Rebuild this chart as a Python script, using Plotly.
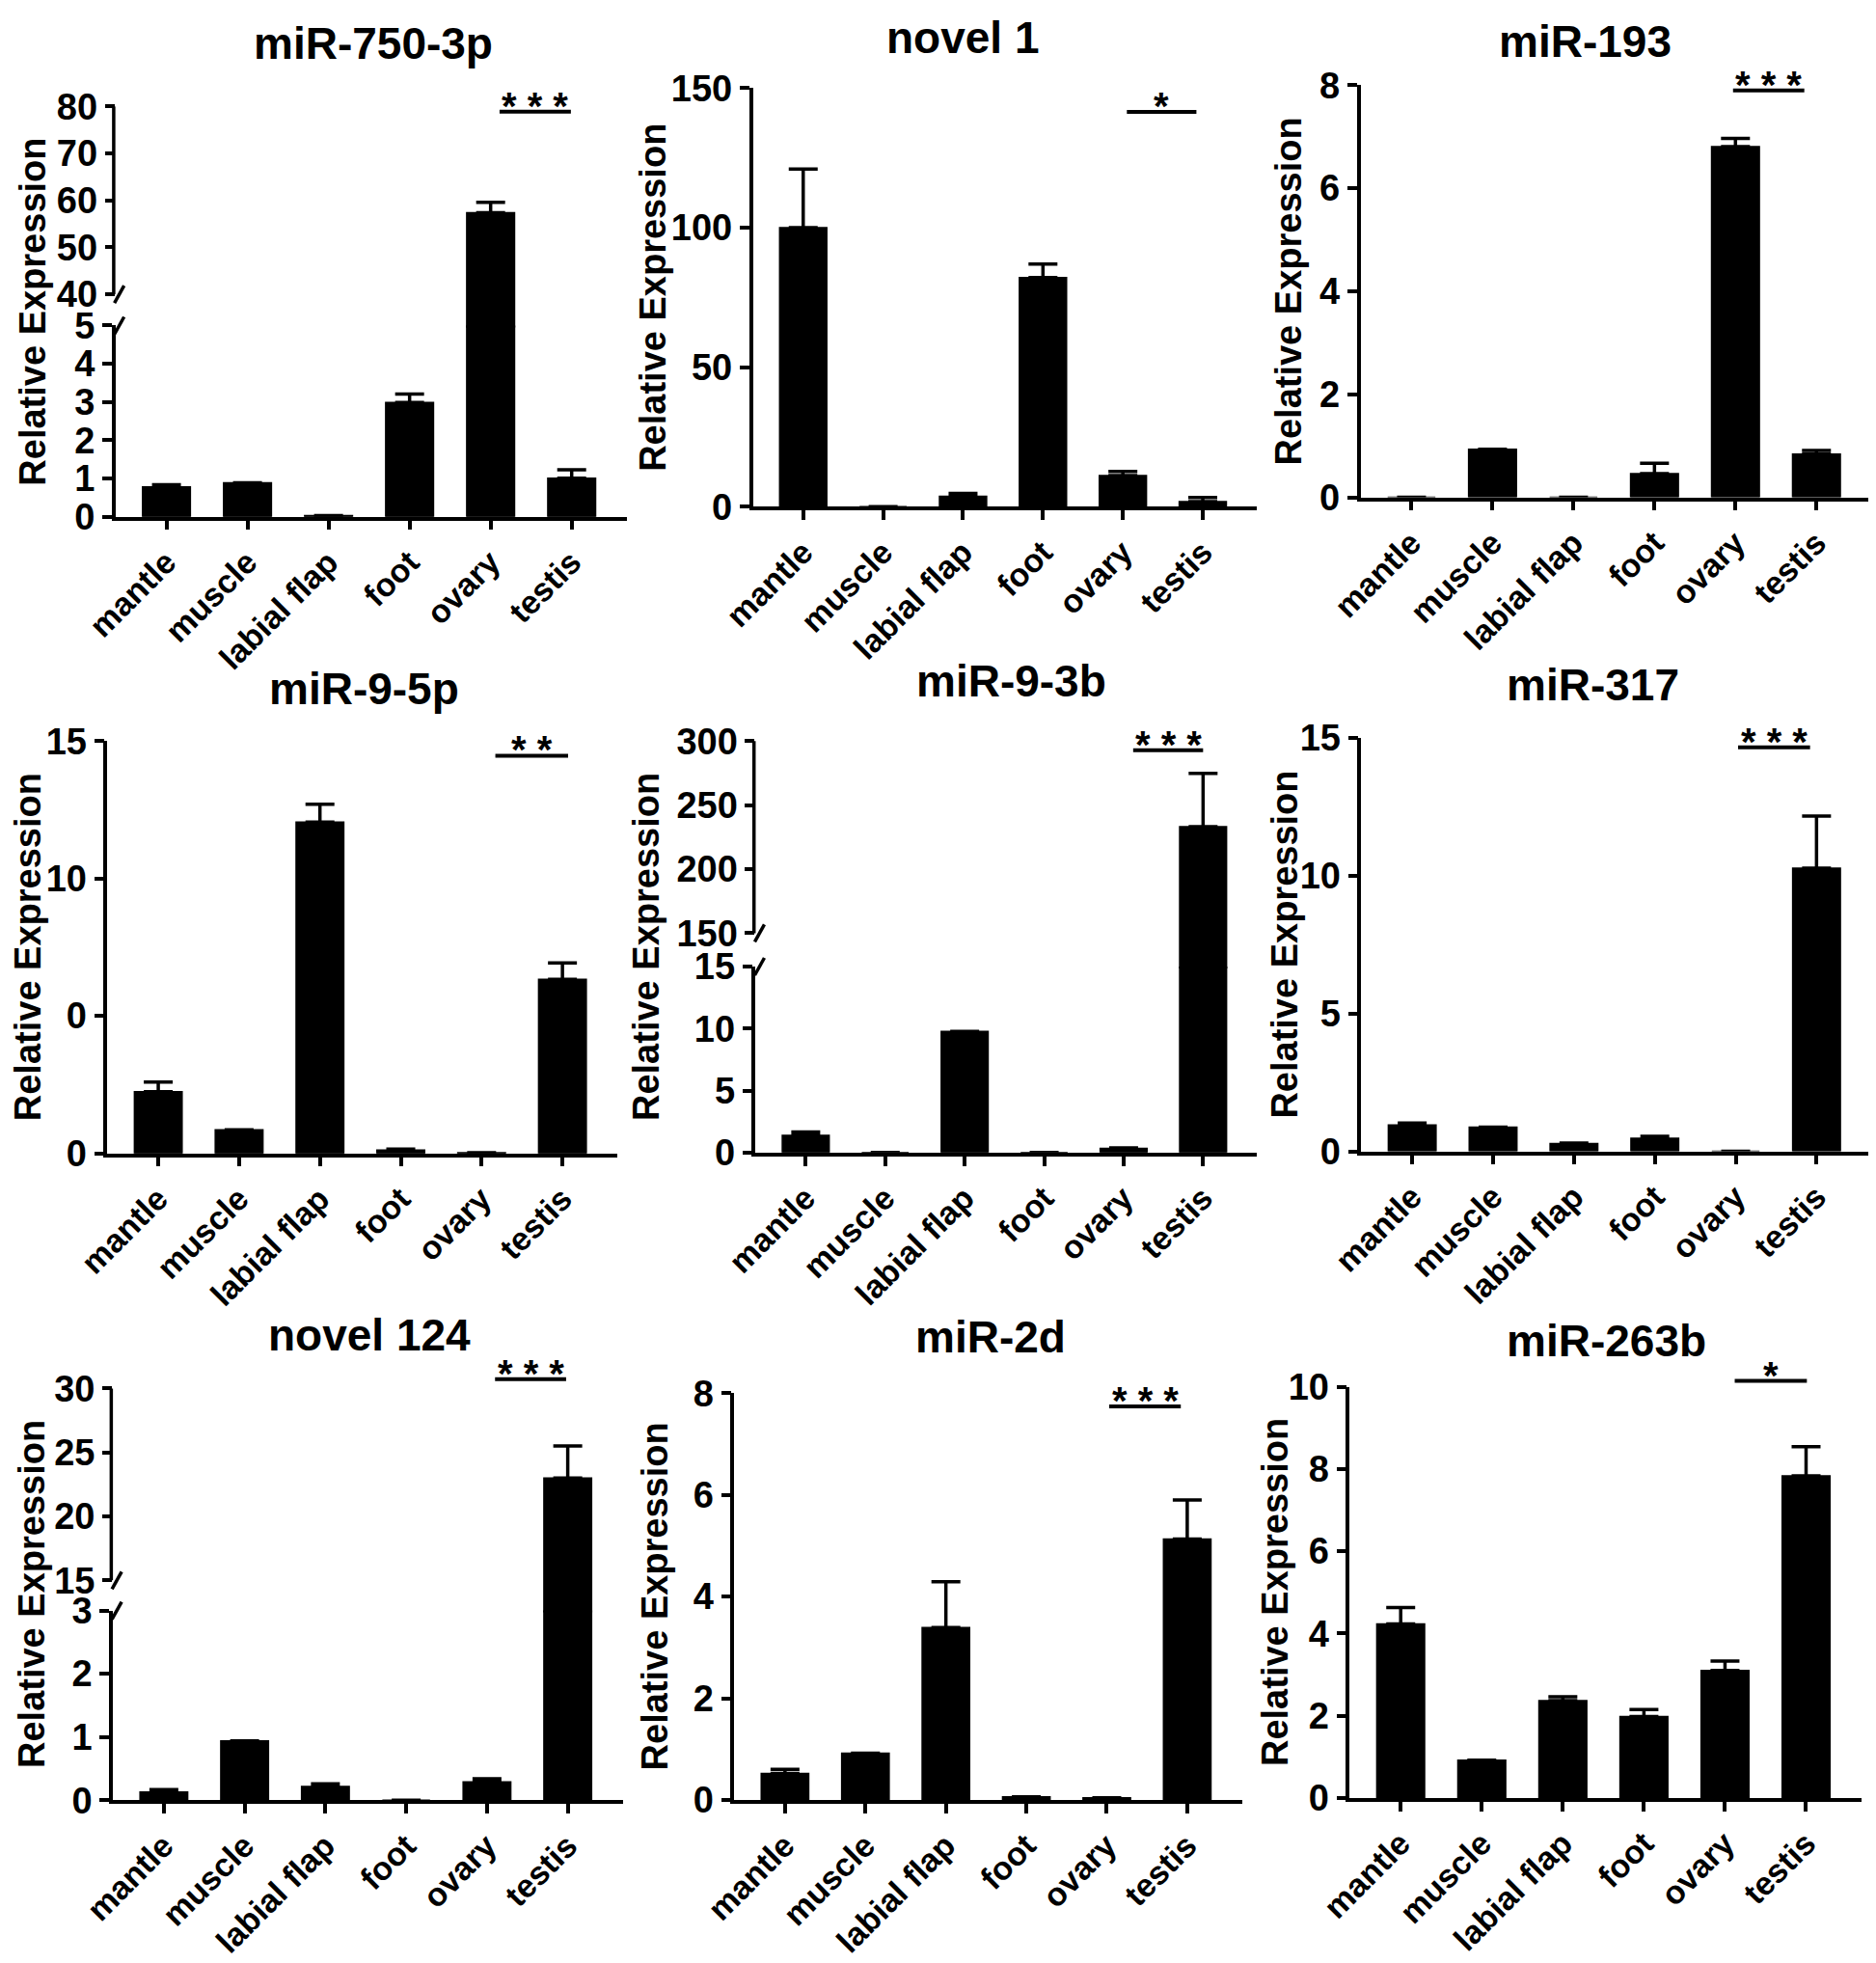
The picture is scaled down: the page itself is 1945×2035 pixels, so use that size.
import plotly.graph_objects as go

# ---- data ----
categories = ["mantle", "muscle", "labial flap", "foot", "ovary", "testis"]

titles = ["miR-750-3p", "novel 1", "miR-193",
          "miR-9-5p", "miR-9-3b", "miR-317",
          "novel 124", "miR-2d", "miR-263b"]

mir750_3p = [0.78, 0.89, 0.03, 2.99, 57.4, 1.01]
mir750_3p_err = [0.06, 0.0, 0.0, 0.22, 2.2, 0.22]
novel1 = [100.0, 0.0, 3.7, 82.1, 11.2, 1.8]
novel1_err = [21.0, 0.0, 1.1, 4.8, 1.4, 1.5]
mir193 = [0.0, 0.93, 0.0, 0.46, 6.81, 0.84]
mir193_err = [0.0, 0.0, 0.0, 0.2, 0.16, 0.07]
mir9_5p = [2.24, 0.86, 12.05, 0.12, 0.02, 6.33]
mir9_5p_err = [0.35, 0.0, 0.65, 0.03, 0.0, 0.6]
mir9_3b = [1.38, 0.0, 9.77, 0.0, 0.33, 233.2]
mir9_3b_err = [0.27, 0.0, 0.0, 0.0, 0.05, 41.6]
mir317 = [0.96, 0.88, 0.28, 0.48, 0.0, 10.28]
mir317_err = [0.07, 0.0, 0.02, 0.07, 0.0, 1.89]
novel124 = [0.13, 0.94, 0.22, 0.0, 0.29, 23.0]
novel124_err = [0.04, 0.0, 0.04, 0.0, 0.05, 2.5]
mir2d = [0.52, 0.92, 3.39, 0.06, 0.04, 5.13]
mir2d_err = [0.08, 0.0, 0.9, 0.0, 0.0, 0.77]
mir263b = [4.23, 0.92, 2.37, 1.98, 3.1, 7.83]
mir263b_err = [0.4, 0.0, 0.09, 0.17, 0.23, 0.71]

means = [mir750_3p, novel1, mir193, mir9_5p, mir9_3b, mir317, novel124, mir2d, mir263b]
errs = [mir750_3p_err, novel1_err, mir193_err, mir9_5p_err, mir9_3b_err,
        mir317_err, novel124_err, mir2d_err, mir263b_err]

# y ticks: lower segment, and upper segment for the broken axes
ticks_low = [[0, 1, 2, 3, 4, 5], [0, 50, 100, 150], [0, 2, 4, 6, 8],
             [0, 5, 10, 15], [0, 5, 10, 15], [0, 5, 10, 15],
             [0, 1, 2, 3], [0, 2, 4, 6, 8], [0, 2, 4, 6, 8, 10]]
ticks_high = [[40, 50, 60, 70, 80], None, None,
              None, [150, 200, 250, 300], None,
              [15, 20, 25, 30], None, None]
tick_text_9_5p = ["0", "0", "10", "15"]

# significance bar (ovary vs testis)
sig_level = [78.9, 141.4, 7.9, 14.47, 292.9, 14.66, 30.73, 7.74, 10.14]
sig_label = ["* * *", "*", "* * *", "* *", "* * *", "* * *", "* * *", "* * *", "*"]

# ---- layout of the 3x3 panels (paper fractions) ----
# brk = where the lower segment ends / upper segment starts, as a share of the panel height
panels = [
    dict(x=(0.0574, 0.3300), y=(0.7407, 0.9497), brk=(0.466, 0.542), t=(0.195, 0.982), dx=86, sig=(4.11, 4.99)),
    dict(x=(0.3972, 0.6660), y=(0.7458, 0.9591), t=(0.509, 0.985), dx=103, sig=(4.05, 4.92)),
    dict(x=(0.7211, 0.9935), y=(0.7506, 0.9605), t=(0.841, 0.983), dx=75, sig=(3.97, 4.85)),
    dict(x=(0.0531, 0.3250), y=(0.4164, 0.6264), t=(0.190, 0.653), dx=82, sig=(4.17, 5.07)),
    dict(x=(0.3987, 0.6660), y=(0.4168, 0.6264), brk=(0.452, 0.533), t=(0.535, 0.657), dx=114, sig=(4.12, 5.00)),
    dict(x=(0.7215, 0.9935), y=(0.4174, 0.6280), t=(0.845, 0.655), dx=79, sig=(4.03, 4.92)),
    dict(x=(0.0561, 0.3278), y=(0.0868, 0.2966), brk=(0.461, 0.534), t=(0.193, 0.324), dx=84, sig=(4.10, 4.98)),
    dict(x=(0.3873, 0.6579), y=(0.0870, 0.2942), t=(0.524, 0.323), dx=82, sig=(4.03, 4.92)),
    dict(x=(0.7153, 0.9880), y=(0.0880, 0.2975), t=(0.852, 0.321), dx=78, sig=(4.12, 5.01)),
]

W, H = 1945, 2035
FONT = "Liberation Sans"
LW = 3.5
XR = [-0.63, 5.68]
SEAM = 2 / H   # upper segment overlaps the lower one a little so broken bars stay solid

axis_base = dict(showline=True, linecolor="black", linewidth=LW, ticks="outside",
                 ticklen=10, tickwidth=LW, tickcolor="black", showgrid=False,
                 zeroline=False, fixedrange=True, automargin=False)
ytick_font = dict(family=FONT, size=38, color="black", weight="bold")
xtick_font = dict(family=FONT, size=34, color="black", weight="bold")

fig = go.Figure()
lay = {}
shapes = []
annotations = []
upper_id = 10


def to_paper(v, dom, rng):
    return dom[0] + (v - rng[0]) / (rng[1] - rng[0]) * (dom[1] - dom[0])


def add_bars(xname, yname, vals, err):
    fig.add_trace(go.Bar(
        x=categories, y=vals, xaxis=xname, yaxis=yname, width=0.59,
        marker=dict(color="black", line=dict(color="black", width=1.5)),
        error_y=dict(type="data", array=err, arrayminus=[0] * len(err), symmetric=False,
                     color="black", thickness=LW, width=15),
        hoverinfo="skip"))


for i, p in enumerate(panels):
    n = i + 1
    x0, x1 = p["x"]
    yb, yt = p["y"]
    lo = ticks_low[i]
    hi = ticks_high[i]
    broken = hi is not None
    low_top = yb + p["brk"][0] * (yt - yb) if broken else yt

    lay[f"xaxis{n}"] = dict(axis_base, domain=[x0, x1], range=XR, anchor=f"y{n}",
                            type="category", categoryorder="array", categoryarray=categories,
                            tickangle=-45, tickfont=xtick_font)
    ylow = dict(axis_base, domain=[yb, low_top], range=[0, lo[-1]], tickvals=lo,
                anchor=f"x{n}", tickfont=ytick_font)
    if titles[i] == "miR-9-5p":
        ylow["ticktext"] = tick_text_9_5p
    lay[f"yaxis{n}"] = ylow
    add_bars(f"x{n}", f"y{n}", means[i], errs[i])
    low_dom, low_rng = (yb, low_top), (0, lo[-1])

    if broken:
        d2 = yb + p["brk"][1] * (yt - yb)
        ub = low_top - SEAM
        r_lo = hi[0] - (d2 - ub) / (yt - d2) * (hi[-1] - hi[0])
        up_rng = (r_lo, hi[-1])
        up_dom = (ub, yt)
        lay[f"yaxis{upper_id}"] = dict(axis_base, domain=list(up_dom), range=list(up_rng),
                                       tickvals=hi, anchor=f"x{n}", showline=False,
                                       tickfont=ytick_font)
        add_bars(f"x{n}", f"y{upper_id}", means[i], errs[i])
        upper_id += 1
        # upper segment of the y axis line
        shapes.append(dict(type="line", xref="paper", yref="paper", xsizemode="pixel",
                           xanchor=x0, x0=-LW / 2, x1=-LW / 2, y0=d2, y1=yt,
                           line=dict(color="black", width=LW)))
        # break marks
        for yy in (low_top, d2):
            shapes.append(dict(type="line", xref="paper", yref="paper",
                               xsizemode="pixel", ysizemode="pixel",
                               xanchor=x0, yanchor=yy, x0=-1, x1=9, y0=-9, y1=9,
                               line=dict(color="black", width=LW)))

    # significance line + stars
    lev = sig_level[i]
    if broken and lev > lo[-1]:
        ys = to_paper(lev, up_dom, up_rng)
    else:
        ys = to_paper(lev, low_dom, low_rng)
    s0, s1 = p["sig"]
    shapes.append(dict(type="line", xref=f"x{n}", yref="paper", x0=s0, x1=s1, y0=ys, y1=ys,
                       line=dict(color="black", width=4)))
    annotations.append(dict(text=sig_label[i], xref=f"x{n}", yref="paper", x=(s0 + s1) / 2, y=ys,
                            xanchor="center", yanchor="middle", yshift=6, showarrow=False,
                            font=dict(family=FONT, size=40, color="black", weight="bold")))

    # panel title
    annotations.append(dict(text=titles[i], xref="paper", yref="paper", x=p["t"][0], y=p["t"][1],
                            xanchor="center", yanchor="middle", showarrow=False,
                            font=dict(family=FONT, size=46, color="black", weight="bold")))
    # y axis title
    annotations.append(dict(text="Relative Expression", xref="paper", yref="paper",
                            x=x0, xshift=-p["dx"], y=(yb + yt) / 2, textangle=-90,
                            xanchor="center", yanchor="middle", showarrow=False,
                            font=dict(family=FONT, size=38, color="black", weight="bold")))

fig.update_layout(
    width=W, height=H, margin=dict(l=0, r=0, t=0, b=0, autoexpand=False),
    paper_bgcolor="white", plot_bgcolor="rgba(0,0,0,0)", showlegend=False,
    shapes=shapes, annotations=annotations, **lay)

fig.write_html("out.html")
